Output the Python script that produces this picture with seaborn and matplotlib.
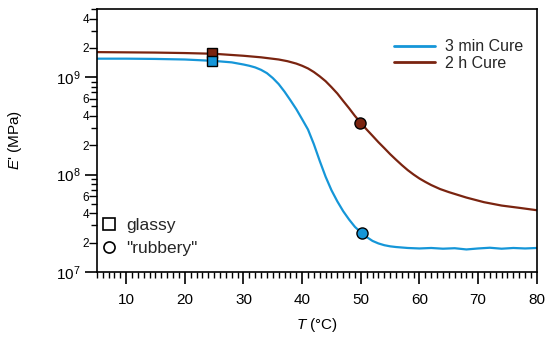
import numpy as np
import pandas as pd
import matplotlib
import matplotlib.pyplot as plt
import seaborn as sns
from matplotlib.ticker import LogLocator, FuncFormatter, MultipleLocator
from matplotlib.lines import Line2D

# 2 h cure curve (T in degC, E' in Pa)
t_2h = [5, 10, 15, 20, 25, 30, 33, 36, 37.5, 39, 40, 41, 42, 43, 44, 45, 46, 47, 48,
        49, 50, 51, 52, 53, 54, 55, 56, 57, 58, 59, 60, 61, 62, 63.5, 65, 68, 71,
        74, 77, 80]
e_2h = [1.81e9, 1.80e9, 1.79e9, 1.77e9, 1.74e9, 1.66e9, 1.60e9, 1.52e9, 1.46e9,
        1.38e9, 1.31e9, 1.23e9, 1.13e9, 1.02e9, 9.1e8, 7.9e8, 6.8e8, 5.7e8, 4.8e8,
        4.0e8, 3.4e8, 2.9e8, 2.5e8, 2.15e8, 1.87e8, 1.62e8, 1.42e8, 1.25e8, 1.11e8,
        1.0e8, 9.1e7, 8.4e7, 7.8e7, 7.1e7, 6.6e7, 5.8e7, 5.2e7, 4.8e7, 4.55e7, 4.3e7]

# 3 min cure curve
t_3m = [5, 10, 15, 20, 25, 28, 30, 31, 32, 33, 34, 35, 36, 37, 38, 39, 40, 41, 42,
        43, 44, 45, 46, 47, 48, 49, 50, 51, 52, 53, 54, 55, 56, 58, 60, 62, 64, 66,
        68, 70, 72, 74, 76, 78, 80]
e_3m = [1.55e9, 1.55e9, 1.54e9, 1.52e9, 1.47e9, 1.42e9, 1.35e9, 1.31e9, 1.26e9,
        1.19e9, 1.1e9, 9.8e8, 8.5e8, 7.1e8, 5.8e8, 4.7e8, 3.7e8, 2.9e8, 2.05e8,
        1.38e8, 9.5e7, 6.9e7, 5.3e7, 4.2e7, 3.45e7, 2.9e7, 2.55e7, 2.28e7, 2.08e7,
        1.96e7, 1.88e7, 1.83e7, 1.8e7, 1.76e7, 1.74e7, 1.76e7, 1.73e7, 1.75e7,
        1.70e7, 1.74e7, 1.77e7, 1.73e7, 1.76e7, 1.74e7, 1.76e7]

# state markers
glassy_t = [24.6, 24.6]
glassy_e = [1.77e9, 1.45e9]
rubbery_t = [49.9, 50.2]
rubbery_e = [3.35e8, 2.5e7]

labels = ["3 min Cure", "2 h Cure"]
colors = ["#1596d8", "#7a2410"]

sns.set_theme(style="ticks")
plt.rcParams['font.family'] = ['Liberation Sans', 'DejaVu Sans']
plt.rcParams['mathtext.fontset'] = 'custom'
plt.rcParams['mathtext.rm'] = 'Liberation Sans'
plt.rcParams['mathtext.it'] = 'Liberation Sans:italic'

df = pd.concat([
    pd.DataFrame({"T": t_3m, "E": e_3m, "cure": labels[0]}),
    pd.DataFrame({"T": t_2h, "E": e_2h, "cure": labels[1]}),
])
pts = pd.DataFrame({
    "T": glassy_t + rubbery_t,
    "E": glassy_e + rubbery_e,
    "cure": [labels[1], labels[0], labels[1], labels[0]],
    "state": ["glassy", "glassy", "rubbery", "rubbery"],
})

fig = plt.figure(figsize=(5.5, 3.39), dpi=100)
ax = fig.add_axes([0.176, 0.198, 0.8, 0.775])

sns.lineplot(data=df, x="T", y="E", hue="cure", palette=colors, linewidth=1.6,
             ax=ax, legend=False, estimator=None, sort=False)
for state, mk, ms in [("glassy", "s", 7), ("rubbery", "o", 8)]:
    sub = pts[pts.state == state]
    for _, r in sub.iterrows():
        ax.plot(r["T"], r["E"], marker=mk, markersize=ms, linestyle="none",
                markerfacecolor=colors[labels.index(r["cure"])],
                markeredgecolor="black", markeredgewidth=1.0, zorder=5)

ax.set_yscale("log")
ax.set_ylim(1e7, 5e9)
ax.set_xlim(5, 80)

ax.xaxis.set_major_locator(MultipleLocator(10))
ax.xaxis.set_minor_locator(MultipleLocator(1))
ax.yaxis.set_major_locator(LogLocator(base=10, numticks=10))
ax.yaxis.set_minor_locator(LogLocator(base=10, subs=np.arange(2, 10), numticks=20))


def minor_fmt(v, pos):
    m = int(round(v / 10 ** np.floor(np.log10(v) + 1e-9)))
    return str(m) if m in (2, 4, 6) else ""


ax.yaxis.set_minor_formatter(FuncFormatter(minor_fmt))

for s in ax.spines.values():
    s.set_color("black")
    s.set_linewidth(1.2)

ax.tick_params(axis="both", which="major", direction="out", length=8.5, width=1.2,
               color="black", labelsize=11, labelcolor="black")
ax.tick_params(axis="both", which="minor", direction="out", length=4, width=1.0,
               color="black", labelsize=8.5, labelcolor="black")
ax.tick_params(axis="x", which="major", pad=7)
ax.tick_params(axis="y", which="minor", pad=1.5)

fig.canvas.draw()
for tk in ax.yaxis.get_minor_ticks():
    v = tk.get_loc()
    if v > 0:
        m = int(round(v / 10 ** np.floor(np.log10(v) + 1e-9)))
        if m in (2, 4, 6):
            tk.tick1line.set_markersize(6)

ax.set_xlabel("$T$ (°C)", fontsize=11, color="black", labelpad=6)
ax.set_ylabel("$E$' (MPa)", fontsize=11, color="black")
ax.yaxis.set_label_coords(-0.165, 0.5)
ax.grid(False)

leg1 = ax.legend(handles=[Line2D([], [], color=c, lw=2) for c in colors], labels=labels,
                 loc="upper left", bbox_to_anchor=(0.66, 0.91), frameon=False,
                 fontsize=11.5, handlelength=2.6, handletextpad=0.6, labelspacing=0.1,
                 borderaxespad=0)
ax.add_artist(leg1)
state_handles = [
    Line2D([], [], marker="s", markersize=8, linestyle="none",
           markerfacecolor="white", markeredgecolor="black", markeredgewidth=1.2),
    Line2D([], [], marker="o", markersize=8, linestyle="none",
           markerfacecolor="white", markeredgecolor="black", markeredgewidth=1.2),
]
ax.legend(handles=state_handles, labels=["glassy", '"rubbery"'], loc="lower left",
          bbox_to_anchor=(-0.008, 0.035), frameon=False, fontsize=12.5,
          handlelength=1.0, handletextpad=0.5, labelspacing=0.45, borderaxespad=0)

fig.savefig("out.png", dpi=100)
